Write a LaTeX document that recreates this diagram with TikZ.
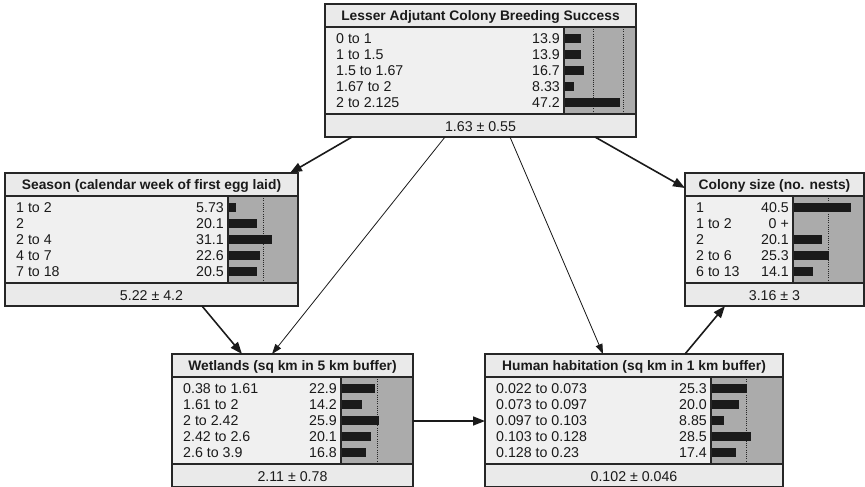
\documentclass[tikz,border=0pt]{standalone}
\usepackage{fontspec}
\setmainfont{Liberation Sans}
\usetikzlibrary{arrows.meta}

\definecolor{panel}{HTML}{EAEAEA}
\definecolor{rowbg}{HTML}{F0F0F0}
\definecolor{bararea}{HTML}{ABABAB}
\definecolor{rule}{HTML}{262626}
\definecolor{ink}{HTML}{1A1A1A}

\tikzset{
  frame/.style={draw=rule, line width=1.1pt, inner sep=0pt, outer sep=0pt},
  sepline/.style={draw=rule, line width=1.1pt},
  dotline/.style={draw=rule, line width=0.6pt, dash pattern=on 1pt off 1.2pt},
  titletext/.style={font=\bfseries\fontsize{13.8}{15}\selectfont, text=ink, inner sep=0pt},
  rowtext/.style={font=\fontsize{14.2}{16}\selectfont, text=ink, inner sep=0pt},
  thicklink/.style={draw=ink, line width=1.6pt, -{Triangle[length=12pt,width=9pt]}},
  thinlink/.style={draw=ink, line width=0.8pt, -{Triangle[length=10pt,width=7pt]}},
}

% #1 name, #2 left, #3 top, #4 width, #5 offset of the bar column,
% #6 bar length per percent, #7 title, #8 rows (label/value/percent), #9 mean +- sd
\newcommand\bnbox[9]{%
\begin{scope}[shift={(#2,#3)}]
  \fill[panel] (0,0) rectangle (#4,133);
  \fill[rowbg] (0,23) rectangle (#5,110);
  \fill[bararea] (#5,23) rectangle (#4,110);
  \foreach \p in {25,50}{%
    \pgfmathsetmacro\dx{#5+\p*#6}%
    \ifdim\dx pt<#4pt \draw[dotline] (\dx,23) -- (\dx,110);\fi
  }
  \node[titletext, anchor=base] (#1-title) at (#4/2,16.5) {#7};
  \foreach \lab/\val/\pct [count=\i] in {#8}{%
    \pgfmathsetmacro\ry{34.5+(\i-1)*16}%
    \node[rowtext, anchor=base west] (#1-l\i) at (11,\ry+5) {\lab};
    \node[rowtext, anchor=base east] (#1-v\i) at (#5-4,\ry+5) {\val};
    \fill[ink] (#5,\ry-4.5) rectangle ({#5+\pct*#6},\ry+4.5);
  }
  \node[rowtext, anchor=base] (#1-foot) at (#4/2,127) {#9};
  \draw[sepline] (0,23) -- (#4,23);
  \draw[sepline] (0,110) -- (#4,110);
  \draw[sepline] (#5,23) -- (#5,110);
  \draw[rule, line width=1.6pt] (#5,109.5) -- (#4,109.5);
  \node[frame, minimum width=#4pt, minimum height=133pt, anchor=north west] (#1) at (0,0) {};
\end{scope}}

\begin{document}
\begin{tikzpicture}[x=1pt, y=-1pt]
  \useasboundingbox (0,0) rectangle (865,487);
  \fill[white] (0,0) rectangle (865,487);

  \bnbox{success}{325}{4}{311}{239}{1.19}{Lesser Adjutant Colony Breeding Success}
    {0 to 1/13.9/13.9, 1 to 1.5/13.9/13.9, 1.5 to 1.67/16.7/16.7, 1.67 to 2/8.33/8.33, 2 to 2.125/47.2/47.2}
    {1.63 ± 0.55}

  \bnbox{season}{5}{173}{293}{223}{1.42}{Season (calendar week of first egg laid)}
    {1 to 2/5.73/5.73, 2/20.1/20.1, 2 to 4/31.1/31.1, 4 to 7/22.6/22.6, 7 to 18/20.5/20.5}
    {5.22 ± 4.2}

  \bnbox{colony}{685}{173}{179}{108}{1.43}{Colony size (no. nests)}
    {1/40.5/40.5, 1 to 2/0 +/0, 2/20.1/20.1, 2 to 6/25.3/25.3, 6 to 13/14.1/14.1}
    {3.16 ± 3}

  \bnbox{wetlands}{172}{354}{241}{169}{1.47}{Wetlands (sq km in 5 km buffer)}
    {0.38 to 1.61/22.9/22.9, 1.61 to 2/14.2/14.2, 2 to 2.42/25.9/25.9, 2.42 to 2.6/20.1/20.1, 2.6 to 3.9/16.8/16.8}
    {2.11 ± 0.78}

  \bnbox{human}{485}{354}{298}{226}{1.42}{Human habitation (sq km in 1 km buffer)}
    {0.022 to 0.073/25.3/25.3, 0.073 to 0.097/20.0/20.0, 0.097 to 0.103/8.85/8.85, 0.103 to 0.128/28.5/28.5, 0.128 to 0.23/17.4/17.4}
    {0.102 ± 0.046}

  % links of the network
  \draw[thicklink] ([xshift=27pt]success.south west) -- ([xshift=285pt]season.north west);
  \draw[thicklink] ([xshift=270pt]success.south west) -- ([yshift=-15pt]colony.north west);
  \draw[thinlink] ([xshift=120pt]success.south west) -- ([xshift=100pt]wetlands.north west);
  \draw[thinlink] ([xshift=185pt]success.south west) -- ([xshift=118pt]human.north west);
  \draw[thicklink] ([xshift=197pt]season.south west) -- ([xshift=70pt]wetlands.north west);
  \draw[thicklink] ([yshift=-67pt]wetlands.north east) -- ([yshift=-67pt]human.north west);
  \draw[thicklink] ([xshift=200pt]human.north west) -- ([xshift=40pt]colony.south west);
\end{tikzpicture}
\end{document}
